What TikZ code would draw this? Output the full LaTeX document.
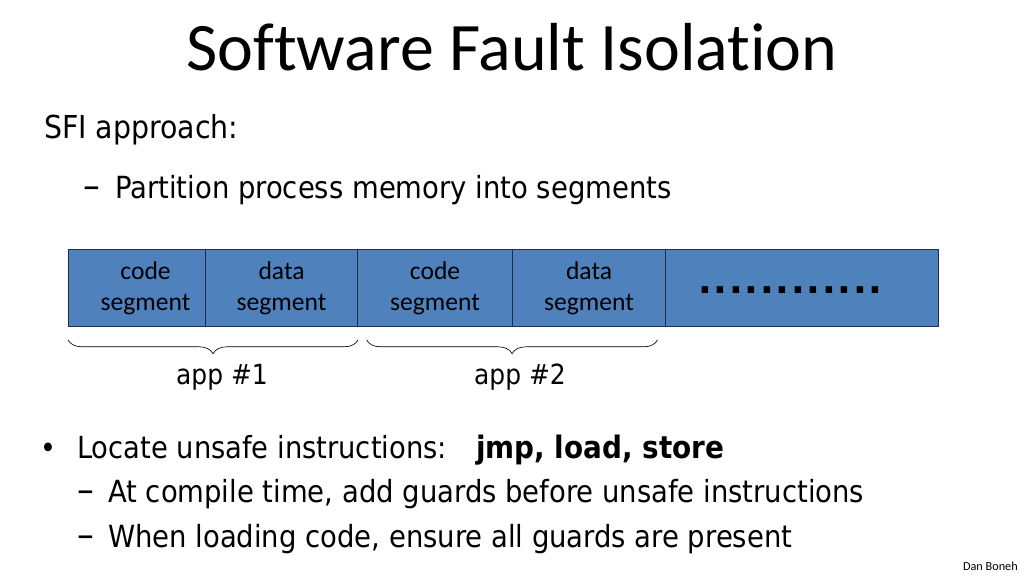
\documentclass[tikz,border=0pt]{standalone}
\usepackage{fontspec}
\setmainfont{Carlito}[Ligatures=NoCommon]
\newfontfamily\bodyfont{DejaVu Sans Condensed}
\newfontfamily\dotfont{DejaVu Sans}
\usepackage{tikz}
\usetikzlibrary{positioning, calc, decorations.pathreplacing}
\definecolor{segblue}{RGB}{79,129,189}
\definecolor{segedge}{RGB}{30,45,70}
\definecolor{mydark}{RGB}{0,0,0}
\tikzset{
  title/.style={font=\fontsize{63.7}{70}\selectfont, color=mydark},
  lvlone/.style={anchor=base west, inner sep=0pt, font=\bodyfont\fontsize{29.6}{34}\selectfont},
  lvltwo/.style={anchor=base west, inner sep=0pt, font=\bodyfont\fontsize{28.6}{33}\selectfont},
  dashmark/.style={anchor=base west, inner sep=0pt, font=\bodyfont\fontsize{35}{40}\selectfont},
  seg/.style={rectangle, draw=segedge, fill=segblue, line width=1pt,
    anchor=north west, minimum height=77*0.9375pt, inner sep=0pt,
    align=center, font=\fontsize{24}{29}\selectfont},
  brace/.style={decorate, decoration={brace, mirror, amplitude=13pt}, line width=0.6pt},
  applabel/.style={font=\bodyfont\fontsize{26}{31}\selectfont}
}

\begin{document}
\begin{tikzpicture}[x=0.9375pt, y=-0.9375pt]
  \useasboundingbox (0,0) rectangle (1024,576);

  % Title
  \node[title] (ttl) at (512,47) {Software Fault Isolation};

  % SFI approach
  \node[lvlone] (sfi) at (44,139) {SFI approach:};
  \node[dashmark] (dash1) at (83,198) {–};
  \node[lvltwo] (part) at (115,198) {Partition process memory into segments};

  % Memory segments
  \node[seg, minimum width=137*0.9375pt] (code1) at (68,249) {\hspace*{16pt}code\\\hspace*{16pt}segment};
  \node[seg, minimum width=152*0.9375pt] (data1) at (205,249) {data\\segment};
  \node[seg, minimum width=155*0.9375pt] (code2) at (357,249) {code\\segment};
  \node[seg, minimum width=153*0.9375pt] (data2) at (512,249) {data\\segment};
  \node[seg, minimum width=273*0.9375pt] (rest) at (665,249) {};
  \node[anchor=base west, inner sep=0pt, font=\dotfont\fontsize{34}{40}\selectfont\bfseries\addfontfeature{LetterSpace=4.7}] (dots) at (698,293) {............};

  % Apps
  \draw[brace] ([yshift=-12pt]code1.south west) -- ([yshift=-12pt]data1.south east);
  \draw[brace] ([xshift=9pt,yshift=-12pt]code2.south west) -- ([xshift=-8pt,yshift=-12pt]data2.south east);
  \node[applabel] (app1) at (222,377) {app \#1};
  \node[applabel] (app2) at (520,377) {app \#2};

  % Unsafe instructions
  \node[lvlone, font=\bodyfont\fontsize{28}{32}\selectfont] (bul) at (40,458) {•};
  \node[lvlone, font=\bodyfont\fontsize{28.5}{33}\selectfont] (loc) at (77,458) {Locate unsafe instructions:};
  \node[lvlone, font=\bodyfont\fontsize{29}{34}\selectfont\bfseries] (ops) at (476,458) {jmp, load, store};
  \node[dashmark] (dash2) at (77,502) {–};
  \node[lvltwo] (guard) at (108,502) {At compile time, add guards before unsafe instructions};
  \node[dashmark] (dash3) at (77,547) {–};
  \node[lvltwo] (load) at (108,547) {When loading code, ensure all guards are present};

  % Author
  \node[anchor=base east, inner sep=0pt, font=\fontsize{11.5}{13}\selectfont] (auth) at (1018,570) {Dan Boneh};
\end{tikzpicture}
\end{document}
